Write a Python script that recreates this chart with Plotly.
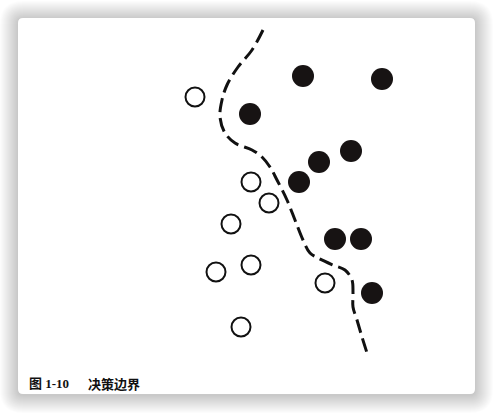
import plotly.graph_objects as go

# Filled (positive class) sample positions
pos_x = [303, 382, 250, 351, 319, 299, 335, 361, 372]
pos_y = [76, 79, 114, 151, 162, 182, 239, 239, 293]

# Open (negative class) sample positions
neg_x = [195, 251, 269, 231, 251, 216, 325, 241]
neg_y = [97, 182, 203, 224, 265, 272, 283, 327]

# Decision boundary (dashed curve)
bnd_x = [263, 252, 238, 227, 222, 220, 225, 235, 252, 262, 270, 277, 287, 295, 303,
         310, 318, 333, 345, 352, 353, 353, 357, 362, 368]
bnd_y = [30, 50, 67, 85, 100, 117, 133, 143, 150, 157, 167, 180, 200, 220, 240,
         253, 258, 265, 270, 280, 293, 307, 320, 337, 356]

caption_num = "图 1-10"
caption_txt = "决策边界"

W, H = 494, 413
L, T, R, B = 18, 18, 475, 394

def rrect(x0, y0, x1, y1, r):
    return (f"M{x0+r},{y0} L{x1-r},{y0} Q{x1},{y0} {x1},{y0+r} "
            f"L{x1},{y1-r} Q{x1},{y1} {x1-r},{y1} L{x0+r},{y1} "
            f"Q{x0},{y1} {x0},{y1-r} L{x0},{y0+r} Q{x0},{y0} {x0+r},{y0} Z")

shapes = []
for i in range(18, 0, -1):
    shapes.append(dict(type="path", xref="x", yref="y",
                       path=rrect(L - i, T - i + 1, R + i, B + i + 1, 5 + i),
                       fillcolor="rgba(0,0,0,0.011)", line=dict(width=0), layer="below"))
shapes.append(dict(type="path", xref="x", yref="y", path=rrect(L, T, R, B, 5),
                   fillcolor="white", line=dict(width=0), layer="below"))

fig = go.Figure()
fig.add_trace(go.Scatter(x=bnd_x, y=bnd_y, mode="lines", line_shape="spline",
                         line=dict(color="#111111", width=3, dash="14px,6px"),
                         hoverinfo="skip"))
fig.add_trace(go.Scatter(x=neg_x, y=neg_y, mode="markers",
                         marker=dict(size=19, color="white",
                                     line=dict(color="#111111", width=2))))
fig.add_trace(go.Scatter(x=pos_x, y=pos_y, mode="markers",
                         marker=dict(size=22, color="#171313", line=dict(width=0))))

fig.add_annotation(x=27, y=383, xref="x", yref="y", text=f"<b>{caption_num}</b>",
                   showarrow=False, xanchor="left", yanchor="middle",
                   font=dict(family="Liberation Serif, Noto Sans CJK SC", size=13, color="#111111"))
fig.add_annotation(x=86, y=383, xref="x", yref="y", text=f"<b>{caption_txt}</b>",
                   showarrow=False, xanchor="left", yanchor="middle",
                   font=dict(family="Noto Sans CJK SC", size=13, color="#111111"))

fig.update_layout(width=W, height=H, margin=dict(l=0, r=0, t=0, b=0),
                  paper_bgcolor="white", plot_bgcolor="white", showlegend=False,
                  shapes=shapes,
                  xaxis=dict(range=[0, W], visible=False, fixedrange=True),
                  yaxis=dict(range=[H, 0], visible=False, fixedrange=True))
fig.write_html("out.html", config={"displayModeBar": False})
